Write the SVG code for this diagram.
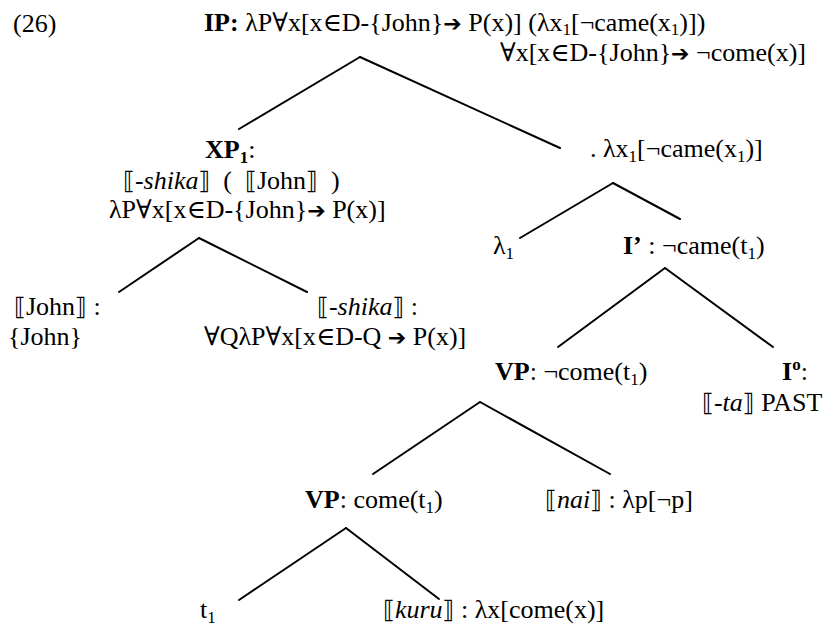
<svg xmlns="http://www.w3.org/2000/svg" width="833" height="627" viewBox="0 0 833 627">
<style>
text{font-family:"Liberation Serif","DejaVu Serif",serif;font-size:26px;fill:#000;white-space:pre}
.b{font-weight:bold}
.i{font-style:italic}
.s{font-size:17px}
.a{font-family:"DejaVu Sans",sans-serif;font-size:22px}
.k{font-family:"DejaVu Sans",sans-serif;font-size:24px}
#edges line{stroke:#000;stroke-width:2;stroke-linecap:round}
</style>
<rect width="833" height="627" fill="#fff"/>
<g id="edges">
<line x1="360" y1="57" x2="239" y2="129"/>
<line x1="360" y1="57" x2="560" y2="148"/>
<line x1="199" y1="238" x2="119" y2="292"/>
<line x1="199" y1="238" x2="307" y2="292"/>
<line x1="613" y1="183" x2="520" y2="238"/>
<line x1="613" y1="183" x2="680" y2="219"/>
<line x1="665" y1="268" x2="558" y2="347"/>
<line x1="665" y1="268" x2="773" y2="347"/>
<line x1="480" y1="402" x2="373" y2="474"/>
<line x1="480" y1="402" x2="610" y2="474"/>
<line x1="346" y1="528" x2="239" y2="600"/>
<line x1="346" y1="528" x2="439" y2="599"/>
</g>
<g id="label26"><text x="13" y="32">(26)</text></g>
<g id="IP">
<text x="204" y="31"><tspan class="b">IP:</tspan> λP∀x[x∈D-{John}<tspan class="a">➔</tspan> P(x)] (λx<tspan class="s" dy="4">1</tspan><tspan dy="-4">[¬came(x</tspan><tspan class="s" dy="4">1</tspan><tspan dy="-4">)])</tspan></text>
<text x="500" y="61">∀x[x∈D-{John}<tspan class="a">➔</tspan> ¬come(x)]</text>
</g>
<g id="XP1">
<text x="205" y="158"><tspan class="b">XP</tspan><tspan class="b s" dy="5">1</tspan><tspan dy="-5">:</tspan></text>
<text x="123" y="189"><tspan class="k">⟦</tspan>-<tspan class="i">shika</tspan><tspan class="k">⟧</tspan>  (  <tspan class="k">⟦</tspan>John<tspan class="k">⟧</tspan>  )</text>
<text x="109" y="218">λP∀x[x∈D-{John}<tspan class="a">➔</tspan> P(x)]</text>
</g>
<g id="lambdaX">
<text x="590" y="157">. λx<tspan class="s" dy="5">1</tspan><tspan dy="-5">[¬came(x</tspan><tspan class="s" dy="5">1</tspan><tspan dy="-5">)]</tspan></text>
</g>
<g id="lambda1"><text x="493" y="254">λ<tspan class="s" dy="5">1</tspan></text></g>
<g id="Ibar"><text x="623" y="254"><tspan class="b">I’</tspan> : ¬came(t<tspan class="s" dy="5">1</tspan><tspan dy="-5">)</tspan></text></g>
<g id="John">
<text x="14" y="315"><tspan class="k">⟦</tspan>John<tspan class="k">⟧</tspan> :</text>
<text x="8" y="345">{John}</text>
</g>
<g id="shika">
<text x="317" y="315"><tspan class="k">⟦</tspan>-<tspan class="i">shika</tspan><tspan class="k">⟧</tspan> :</text>
<text x="204" y="345">∀QλP∀x[x∈D-Q <tspan class="a">➔</tspan> P(x)]</text>
</g>
<g id="VPneg"><text x="495" y="380"><tspan class="b">VP</tspan>: ¬come(t<tspan class="s" dy="5">1</tspan><tspan dy="-5">)</tspan></text></g>
<g id="I0">
<text x="782" y="380"><tspan class="b">I</tspan><tspan class="b s" dy="-10">o</tspan><tspan dy="10">:</tspan></text>
<text x="702" y="411"><tspan class="k">⟦</tspan>-<tspan class="i">ta</tspan><tspan class="k">⟧</tspan> PAST</text>
</g>
<g id="VP"><text x="305" y="508"><tspan class="b">VP</tspan>: come(t<tspan class="s" dy="5">1</tspan><tspan dy="-5">)</tspan></text></g>
<g id="nai"><text x="545" y="508"><tspan class="k">⟦</tspan><tspan class="i">nai</tspan><tspan class="k">⟧</tspan> : λp[¬p]</text></g>
<g id="t1"><text x="200" y="618">t<tspan class="s" dy="5">1</tspan></text></g>
<g id="kuru"><text x="383" y="618"><tspan class="k">⟦</tspan><tspan class="i">kuru</tspan><tspan class="k">⟧</tspan> : λx[come(x)]</text></g>
</svg>
